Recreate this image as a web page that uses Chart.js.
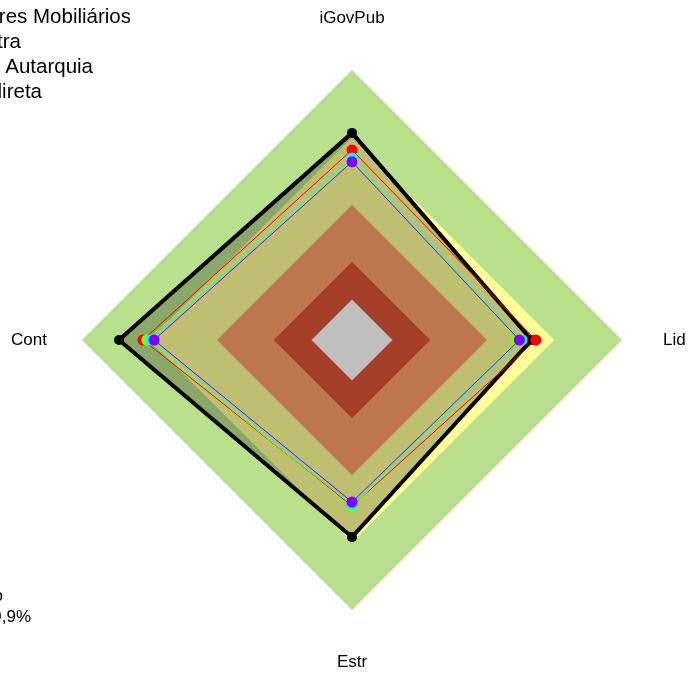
<!DOCTYPE html>
<html>
<head>
<meta charset="utf-8">
<script src="https://cdn.jsdelivr.net/npm/chart.js@4.4.1/dist/chart.umd.min.js"></script>
<style>
  html, body { margin:0; padding:0; background:#fff; }
  #wrap { width:688px; height:673px; position:relative; }
</style>
</head>
<body>
<div id="wrap"><canvas id="radar"></canvas></div>
<script>
const axes = ['iGovPub', 'Lid', 'Estr', 'Cont'];

// faixas de fundo (nível)
const bandGreen  = [1.00, 1.00, 1.00, 1.00];
const bandYellow = [0.75, 0.75, 0.75, 0.75];
const bandOrange = [0.50, 0.50, 0.50, 0.50];
const bandRed    = [0.29, 0.29, 0.29, 0.29];
const bandCenter = [0.15, 0.15, 0.15, 0.15];

// séries
const orgao     = [0.767, 0.665, 0.730, 0.863];
const serieRed  = [0.704, 0.681, 0.615, 0.774];
const serieLime = [0.665, 0.610, 0.620, 0.760];
const serieCyan = [0.674, 0.630, 0.610, 0.745];
const serieViol = [0.660, 0.620, 0.600, 0.733];

const legendTop = ['Comissão de Valores Mobiliários', 'Média da amostra', 'Média  Autarquia', 'Média Adm. direta'];
const legendBottom = ['Nível intermediário', 'Iniciando: 15% a 29,9%'];

const band = (data, color, order) => ({
  data, backgroundColor: color, borderWidth: 0, pointRadius: 0, fill: 'origin', order
});
const serie = (data, color, order, w, r) => ({
  data, borderColor: color, borderWidth: w, pointRadius: r, pointBackgroundColor: color,
  pointBorderWidth: 0, fill: false, order
});

// rótulos dos eixos, posicionados pela própria escala radial
const axisLabels = {
  id: 'axisLabels',
  afterDraw(chart){
    const s = chart.scales.r, c = chart.ctx;
    const off = [52, 41, 52, 35];
    const align = ['center', 'left', 'center', 'right'];
    c.save();
    c.fillStyle = '#000';
    c.font = '17px "Liberation Sans", Arial, sans-serif';
    c.textBaseline = 'middle';
    axes.forEach((t,i)=>{
      const p = s.getPointPosition(i, s.drawingArea + off[i]);
      c.textAlign = align[i];
      c.fillText(t, p.x, p.y);
    });
    c.restore();
  }
};

const textPlugin = {
  id: 'legendText',
  afterDraw(chart){
    const c = chart.ctx;
    c.save();
    c.fillStyle = '#000';
    c.textAlign = 'right';
    c.textBaseline = 'alphabetic';
    c.font = '20.5px "Liberation Sans", Arial, sans-serif';
    const ends = [131, 21, 93, 42];
    legendTop.forEach((t,i)=>c.fillText(t, ends[i], 23 + i*25));
    c.font = '17px "Liberation Sans", Arial, sans-serif';
    c.fillText(legendBottom[0], 3, 601);
    c.fillText(legendBottom[1], 31, 622);
    c.restore();
  }
};

new Chart(document.getElementById('radar'), {
  type: 'radar',
  data: {
    labels: axes,
    datasets: [
      band(bandGreen,  '#b9e08c', 14),
      band(bandYellow, '#ffff99', 13),
      band(bandOrange, '#ffa068', 12),
      band(bandRed,    '#de5539', 11),
      band(bandCenter, '#ffffff', 10),
      Object.assign(serie(orgao, '#000000', 5, 4, 5), { fill: 'origin', backgroundColor: 'rgba(0,0,0,0.25)' }),
      serie(serieRed,  '#ff0000', 4, 1, 5.5),
      serie(serieLime, '#80ff00', 3, 1, 5.5),
      serie(serieCyan, '#00ffff', 2, 1, 5.5),
      serie(serieViol, '#8000ff', 1, 1, 5.5)
    ]
  },
  options: {
    responsive: true,
    maintainAspectRatio: false,
    devicePixelRatio: 1,
    animation: false,
    layout: { padding: { left: 82, top: 70, right: 66, bottom: 63 } },
    elements: { line: { tension: 0 } },
    plugins: { legend: { display: false }, tooltip: { enabled: false } },
    scales: {
      r: {
        min: 0, max: 1,
        ticks: { display: false, z: 1 },
        grid: { display: false },
        angleLines: { display: true, color: 'rgba(185,185,185,0.75)', lineWidth: 1 },
        pointLabels: { display: false }
      }
    }
  },
  plugins: [axisLabels, textPlugin]
});
</script>
</body>
</html>
